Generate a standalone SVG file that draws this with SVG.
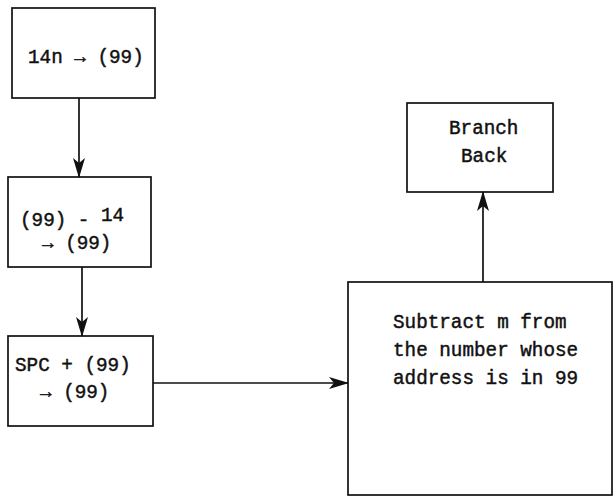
<svg xmlns="http://www.w3.org/2000/svg" width="616" height="500" viewBox="0 0 616 500">
  <style>
    .box { fill: none; stroke: #111; stroke-width: 1.7; }
    .txt { font-family: "Liberation Mono", "Courier New", monospace; font-size: 19.3px; fill: #111; stroke: #111; stroke-width: 0.45; }
    .wire { fill: none; stroke: #111; stroke-width: 1.7; }
  </style>
  <defs>
    <marker id="head" viewBox="0 0 20 12" refX="19" refY="6" markerWidth="20" markerHeight="12" markerUnits="userSpaceOnUse" orient="auto">
      <path d="M0,0 L20,6 L0,12 L5,6 Z" fill="#111"/>
    </marker>
  </defs>
  <rect width="616" height="500" fill="#fff"/>

  <g id="step-load">
    <rect class="box" x="12" y="8" width="143" height="90"/>
    <text class="txt" x="28" y="63">14n → (99)</text>
  </g>

  <g id="step-decrement">
    <rect class="box" x="8" y="177" width="143" height="90"/>
    <text class="txt" x="20" y="226">(99) - <tspan dy="-5">14</tspan></text>
    <text class="txt" x="42" y="248.5">→ (99)</text>
  </g>

  <g id="step-add-spc">
    <rect class="box" x="8" y="336" width="145" height="90"/>
    <text class="txt" x="15" y="371">SPC + (99)</text>
    <text class="txt" x="40" y="398">→ (99)</text>
  </g>

  <g id="step-subtract">
    <rect class="box" x="348" y="282" width="264" height="213"/>
    <text class="txt" x="393" y="328">Subtract m from</text>
    <text class="txt" x="393" y="356">the number whose</text>
    <text class="txt" x="393" y="384">address is in 99</text>
  </g>

  <g id="step-branch">
    <rect class="box" x="407" y="103" width="146" height="89"/>
    <text class="txt" x="449" y="134">Branch</text>
    <text class="txt" x="461" y="162">Back</text>
  </g>

  <g id="connectors">
    <line class="wire" x1="79" y1="98" x2="79" y2="177" marker-end="url(#head)"/>
    <line class="wire" x1="82" y1="267" x2="82" y2="336" marker-end="url(#head)"/>
    <line class="wire" x1="153" y1="383" x2="348" y2="383" marker-end="url(#head)"/>
    <line class="wire" x1="483" y1="282" x2="483" y2="192" marker-end="url(#head)"/>
  </g>
</svg>
